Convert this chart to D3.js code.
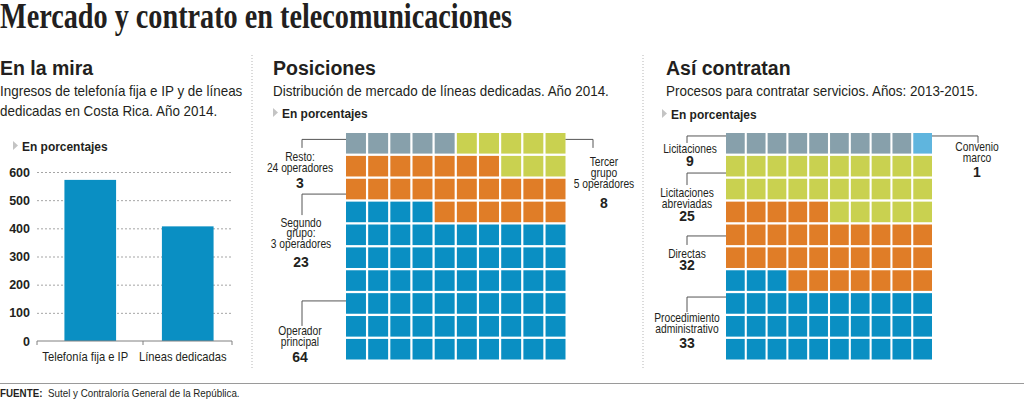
<!DOCTYPE html>
<html>
<head>
<meta charset="utf-8">
<script src="https://cdn.jsdelivr.net/npm/d3@7"></script>
<style>
  body { margin: 0; background: #fff; }
  svg { display: block; }
</style>
</head>
<body>
<div class="grafico"></div>
<script>
// datos
var barCategories = ["Telefonía fija e IP", "Líneas dedicadas"];
var barValues = [572, 407];
var barTicks = [0, 100, 200, 300, 400, 500, 600];

// Posiciones: orden de llenado desde abajo
var posLabels = [["Operador", "principal"], ["Segundo", "grupo:", "3 operadores"], ["Tercer", "grupo", "5 operadores"], ["Resto:", "24 operadores"]];
var posValues = [64, 23, 8, 3];
var posSquares = [64, 23, 8, 5]; // cuadros dibujados en el original

// Así contratan
var contLabels = [["Procedimiento", "administrativo"], ["Directas"], ["Licitaciones", "abreviadas"], ["Licitaciones"], ["Convenio", "marco"]];
var contValues = [33, 32, 25, 9, 1];

// colores
var blue = "#0a8fc3", orange = "#e07d27", green = "#c9d150", gray = "#87a0ab", lightblue = "#5fb5de";
var posColors = [blue, orange, green, gray];
var contColors = [blue, orange, green, gray, lightblue];

var ink = "#231f20";
var SANS = "'Liberation Sans', Arial, sans-serif";

var w = 1024, h = 399;
var svg = d3.select(".grafico").append("svg")
  .attr("width", w)
  .attr("height", h);

// la fuente original es condensada: se comprime el ancho del texto
function squeeze(sel, k) {
  sel.each(function() {
    var n = this.getComputedTextLength();
    d3.select(this).attr("textLength", n * k).attr("lengthAdjust", "spacingAndGlyphs");
  });
  return sel;
}

// título
svg.append("text")
  .attr("x", 0).attr("y", 28)
  .attr("font-family", "'Liberation Serif', serif")
  .attr("font-weight", "bold")
  .attr("font-size", 35)
  .attr("textLength", 512)
  .attr("lengthAdjust", "spacingAndGlyphs")
  .attr("fill", ink)
  .text("Mercado y contrato en telecomunicaciones");

// separadores punteados
[252, 643].forEach(function(sx) {
  svg.append("line")
    .attr("x1", sx).attr("x2", sx).attr("y1", 55).attr("y2", 369)
    .attr("stroke", "#b5b5b5").attr("stroke-dasharray", "1,2");
});

// encabezados de cada bloque
function header(x, title, lines, px, py) {
  svg.append("text")
    .attr("x", x).attr("y", 75)
    .attr("font-family", SANS).attr("font-weight", "bold").attr("font-size", 19.5)
    .attr("fill", ink).text(title);
  lines.forEach(function(t, i) {
    svg.append("text")
      .attr("x", x).attr("y", 96 + i * 19.5)
      .attr("font-family", SANS).attr("font-size", 15)
      .attr("fill", ink).text(t)
      .call(squeeze, 0.895);
  });
  svg.append("path")
    .attr("d", "M" + px + "," + (py - 10) + "l5,4.5l-5,4.5z")
    .attr("fill", "#c4c4c4");
  svg.append("text")
    .attr("x", px + 9).attr("y", py)
    .attr("font-family", SANS).attr("font-weight", "bold").attr("font-size", 13.5)
    .attr("fill", ink).text("En porcentajes")
    .call(squeeze, 0.885);
}
header(0, "En la mira", ["Ingresos de telefonía fija e IP y de líneas", "dedicadas en Costa Rica. Año 2014."], 13, 151);
header(273, "Posiciones", ["Distribución de mercado de líneas dedicadas. Año 2014."], 273, 118);
header(666, "Así contratan", ["Procesos  para contratar servicios. Años: 2013-2015."], 662, 119);

// --- gráfico de barras ---
var gx0 = 37, gx1 = 232;
var y = d3.scaleLinear().domain([0, 600]).range([341, 172]);
var x = d3.scaleBand().domain(barCategories).range([42, 236]).paddingInner(0.47).paddingOuter(0.23);

var yAxis = svg.append("g")
  .attr("transform", "translate(" + gx0 + ",0)")
  .call(d3.axisLeft(y).tickValues(barTicks).tickSize(-(gx1 - gx0)).tickPadding(7));
yAxis.select(".domain").remove();
yAxis.selectAll(".tick line")
  .attr("stroke", "#a5a5a5")
  .attr("stroke-dasharray", "2,2")
  .attr("opacity", function(d) { return d === 0 ? 0 : 1; });
yAxis.selectAll(".tick text")
  .attr("font-family", SANS).attr("font-weight", "bold").attr("font-size", 12.5)
  .attr("fill", ink);

svg.selectAll("rect.bar")
  .data(barValues)
  .enter().append("rect")
  .attr("class", "bar")
  .attr("x", function(d, i) { return x(barCategories[i]); })
  .attr("width", x.bandwidth())
  .attr("y", function(d) { return y(d); })
  .attr("height", function(d) { return y(0) - y(d); })
  .attr("fill", blue);

// línea base con marcas
svg.append("line")
  .attr("x1", gx0).attr("x2", gx1).attr("y1", y(0)).attr("y2", y(0))
  .attr("stroke", "#808080");
[gx0, 143, gx1].forEach(function(tx) {
  svg.append("line")
    .attr("x1", tx).attr("x2", tx).attr("y1", y(0)).attr("y2", y(0) + 4)
    .attr("stroke", "#808080");
});
svg.selectAll("text.cat")
  .data(barCategories)
  .enter().append("text")
  .attr("class", "cat")
  .attr("x", function(d) { return x(d) + x.bandwidth() / 2 - 5; })
  .attr("y", 361)
  .attr("text-anchor", "middle")
  .attr("font-family", SANS).attr("font-size", 13)
  .attr("fill", ink)
  .text(function(d) { return d; })
  .call(squeeze, 0.86);

// --- waffles ---
function waffleCells(counts, snake) {
  var cells = [], k = 0;
  counts.forEach(function(n, c) {
    for (var i = 0; i < n; i++) {
      var line = Math.floor(k / 10), pos = k % 10;
      var col = (snake && line % 2 === 1) ? 9 - pos : pos;
      cells.push({ row: 9 - line, col: col, cat: c });
      k++;
    }
  });
  return cells;
}

function waffle(counts, colors, snake, colRange) {
  var cx = d3.scaleBand().domain(d3.range(10)).range(colRange).paddingInner(0.1);
  var cy = d3.scaleBand().domain(d3.range(10)).range([133, 359.5]).paddingInner(0.1);
  svg.append("g").selectAll("rect")
    .data(waffleCells(counts, snake))
    .enter().append("rect")
    .attr("x", function(d) { return cx(d.col); })
    .attr("y", function(d) { return cy(d.row); })
    .attr("width", cx.bandwidth())
    .attr("height", cy.bandwidth())
    .attr("fill", function(d) { return colors[d.cat]; });
  return { cx: cx, cy: cy };
}

// anotaciones con línea guía
function note(sc, side, lx, tx, row, drop, dy, vgap, lines, value) {
  var ly = sc.cy(0) + row * sc.cy.step();
  var edge = side === "left" ? sc.cx.range()[0] : sc.cx.range()[1];
  svg.append("path")
    .attr("d", "M" + edge + "," + ly + "H" + lx + "V" + (ly + drop))
    .attr("fill", "none").attr("stroke", "#555").attr("stroke-width", 1);
  var ty = ly + drop + dy;
  lines.forEach(function(t, i) {
    svg.append("text")
      .attr("x", tx).attr("y", ty + i * 10.8)
      .attr("text-anchor", "middle")
      .attr("font-family", SANS).attr("font-size", 13)
      .attr("fill", ink).text(t)
      .call(squeeze, 0.79);
  });
  svg.append("text")
    .attr("x", tx).attr("y", ty + (lines.length - 1) * 10.8 + vgap)
    .attr("text-anchor", "middle")
    .attr("font-family", SANS).attr("font-weight", "bold").attr("font-size", 14)
    .attr("fill", ink).text(value);
}

var pos = waffle(posSquares, posColors, true, [346, 565.5]);
note(pos, "left", 302, 300, 7.34, 25, 9.5, 16, posLabels[0], posValues[0]);
note(pos, "left", 302, 301, 2.67, 21, 11.5, 19, posLabels[1], posValues[1]);
note(pos, "right", 593, 604, 0.28, 8.5, 18.5, 20, posLabels[2], posValues[2]);
note(pos, "left", 302, 300, 0.28, 8.5, 13.5, 16, posLabels[3], posValues[3]);

var cont = waffle(contValues, contColors, false, [726, 932]);
note(cont, "left", 687, 687, 7.17, 15, 10, 15, contLabels[0], contValues[0]);
note(cont, "left", 687, 687, 4.5, 9, 13, 12, contLabels[1], contValues[1]);
note(cont, "left", 687, 687, 1.75, 12, 12, 13, contLabels[2], contValues[2]);
note(cont, "left", 687, 690, 0.13, 7, 10, 13, contLabels[3], contValues[3]);
note(cont, "right", 978, 977, 0.13, 7, 8, 15, contLabels[4], contValues[4]);

// fuente
svg.append("line")
  .attr("x1", 0).attr("x2", w).attr("y1", 383.5).attr("y2", 383.5)
  .attr("stroke", "#9a9a9a");
svg.append("text")
  .attr("x", 0).attr("y", 397)
  .attr("font-family", SANS).attr("font-weight", "bold").attr("font-size", 11)
  .attr("fill", ink).text("FUENTE:")
  .call(squeeze, 0.89);
svg.append("text")
  .attr("x", 48).attr("y", 397)
  .attr("font-family", SANS).attr("font-size", 11)
  .attr("fill", ink).text("Sutel y Contraloría General de la República.")
  .call(squeeze, 0.89);
</script>
</body>
</html>
